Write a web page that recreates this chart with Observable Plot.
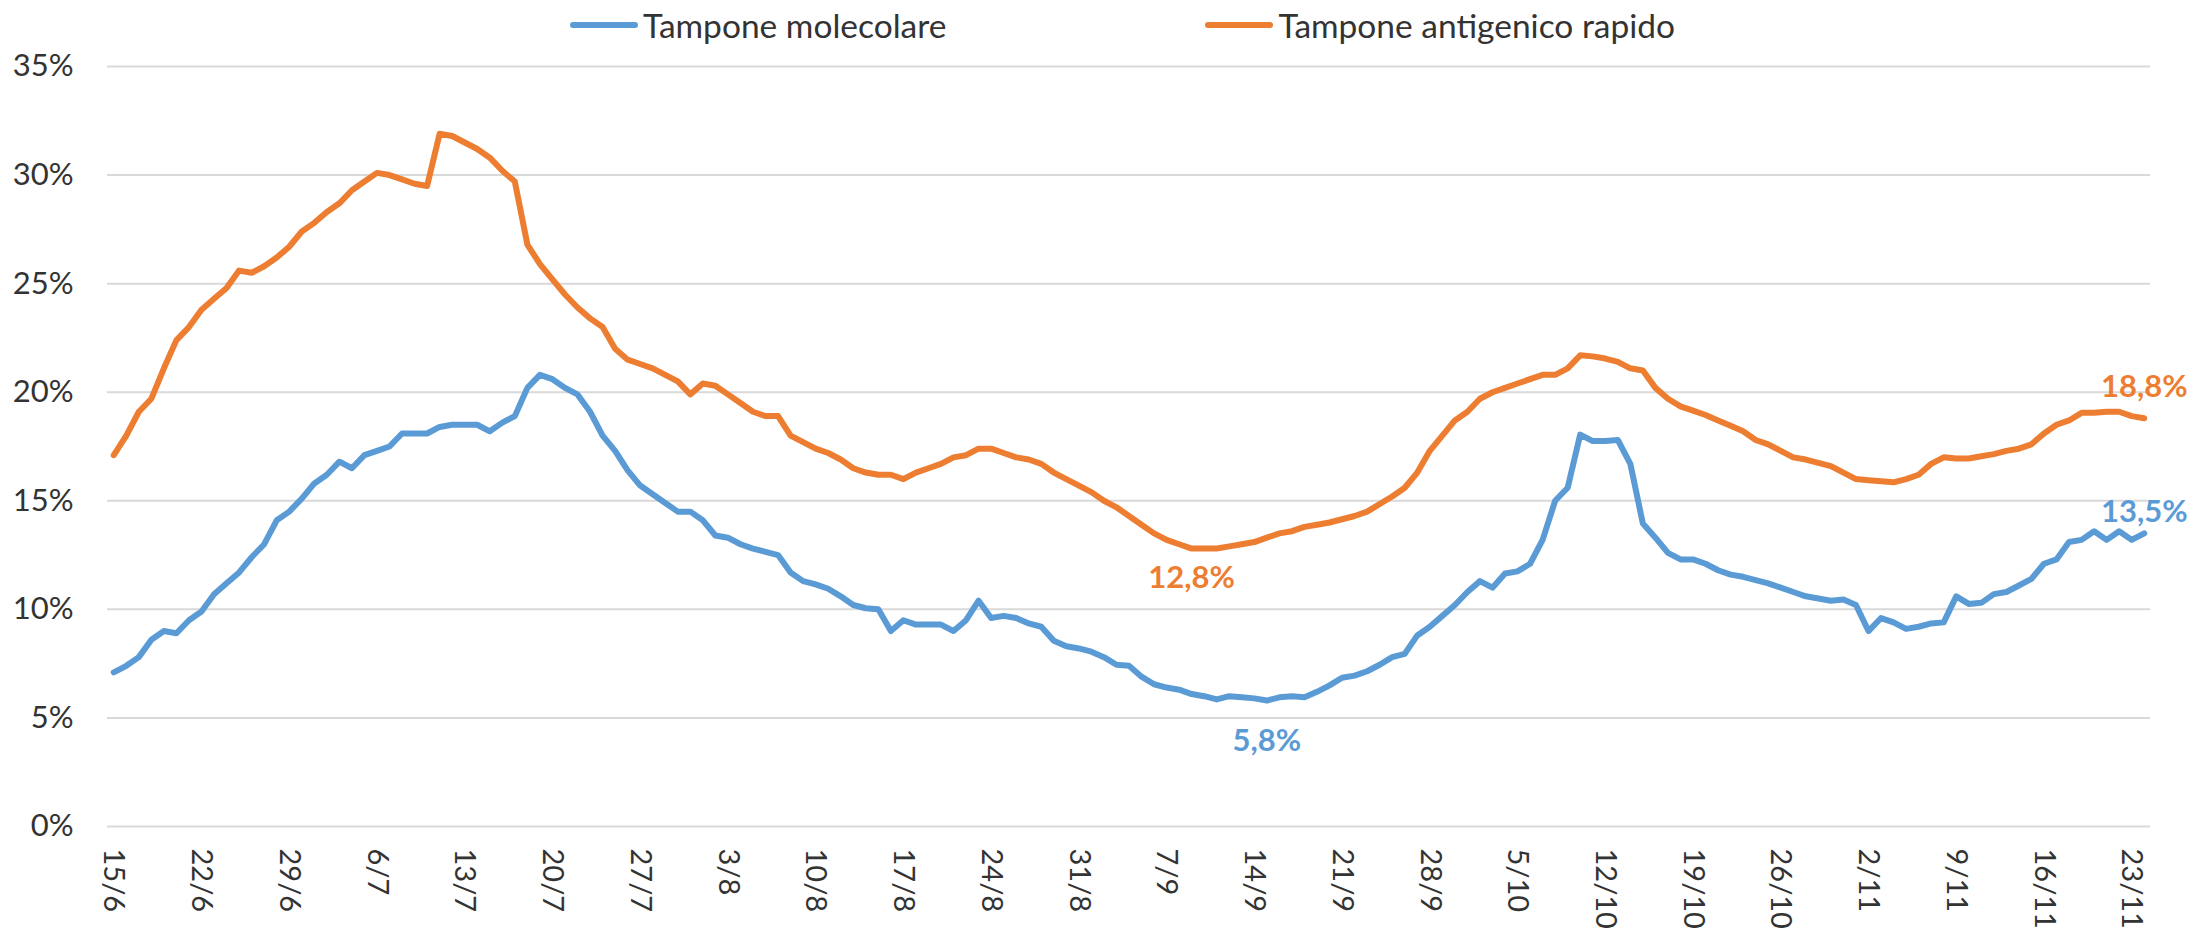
<!DOCTYPE html>
<html>
<head>
<meta charset="utf-8">
<script src="https://cdn.jsdelivr.net/npm/d3@7"></script>
<script src="https://cdn.jsdelivr.net/npm/@observablehq/plot@0.6"></script>
<style>
  html, body { margin: 0; padding: 0; background: #ffffff; }
  body { width: 2198px; height: 932px; overflow: hidden; font-family: Lato, "Liberation Sans", sans-serif; }
  #legend { height: 50px; display: flex; justify-content: center; align-items: center; gap: 258px; font-size: 33.5px; color: #333333; padding-left: 46px; }
  .item { display: flex; align-items: center; }
  .item svg { margin-right: 4px; }
</style>
</head>
<body>
<div id="legend"></div>
<div id="chart"></div>
<script>
// ---- data ----
const startDay = "2022-06-15";
const seriesNames = ["Tampone molecolare", "Tampone antigenico rapido"];
const seriesColors = ["#5B9BD5", "#ED7D31"];

const molecolare = [
  7.1, 7.4, 7.8, 8.6, 9.0, 8.9, 9.5, 9.9, 10.7, 11.2,
  11.7, 12.4, 13.0, 14.1, 14.5, 15.1, 15.8, 16.2, 16.8, 16.5,
  17.1, 17.3, 17.5, 18.1, 18.1, 18.1, 18.4, 18.5, 18.5, 18.5,
  18.2, 18.6, 18.9, 20.2, 20.8, 20.6, 20.2, 19.9, 19.1, 18.0,
  17.3, 16.4, 15.7, 15.3, 14.9, 14.5, 14.5, 14.1, 13.4, 13.3,
  13.0, 12.8, 12.65, 12.5, 11.7, 11.3, 11.15, 10.95, 10.6, 10.2,
  10.05, 10.0, 9.0, 9.5, 9.3, 9.3, 9.3, 9.0, 9.5, 10.4,
  9.6, 9.7, 9.6, 9.35, 9.2, 8.55, 8.3, 8.2, 8.05, 7.8,
  7.45, 7.4, 6.9, 6.55, 6.4, 6.3, 6.1, 6.0, 5.85, 6.0,
  5.95, 5.9, 5.8, 5.95, 6.0, 5.95, 6.2, 6.5, 6.85, 6.95,
  7.15, 7.45, 7.8, 7.95, 8.8, 9.2, 9.7, 10.2, 10.8, 11.3,
  11.0, 11.65, 11.75, 12.1, 13.2, 15.0, 15.6, 18.05, 17.75, 17.75,
  17.8, 16.7, 13.95, 13.3, 12.6, 12.3, 12.3, 12.1, 11.8, 11.6,
  11.5, 11.35, 11.2, 11.0, 10.8, 10.6, 10.5, 10.4, 10.45, 10.2,
  9.0, 9.6, 9.4, 9.1, 9.2, 9.35, 9.4, 10.6, 10.25, 10.3,
  10.7, 10.8, 11.1, 11.4, 12.1, 12.3, 13.1, 13.2, 13.6, 13.2,
  13.6, 13.2, 13.5
];

const antigenico = [
  17.1, 18.0, 19.1, 19.7, 21.1, 22.4, 23.0, 23.8, 24.3, 24.8,
  25.6, 25.5, 25.8, 26.2, 26.7, 27.4, 27.8, 28.3, 28.7, 29.3,
  29.7, 30.1, 30.0, 29.8, 29.6, 29.5, 31.9, 31.8, 31.5, 31.2,
  30.8, 30.2, 29.7, 26.8, 25.9, 25.2, 24.5, 23.9, 23.4, 23.0,
  22.0, 21.5, 21.3, 21.1, 20.8, 20.5, 19.9, 20.4, 20.3, 19.9,
  19.5, 19.1, 18.9, 18.9, 18.0, 17.7, 17.4, 17.2, 16.9, 16.5,
  16.3, 16.2, 16.2, 16.0, 16.3, 16.5, 16.7, 17.0, 17.1, 17.4,
  17.4, 17.2, 17.0, 16.9, 16.7, 16.3, 16.0, 15.7, 15.4, 15.0,
  14.7, 14.3, 13.9, 13.5, 13.2, 13.0, 12.8, 12.8, 12.8, 12.9,
  13.0, 13.1, 13.3, 13.5, 13.6, 13.8, 13.9, 14.0, 14.15, 14.3,
  14.5, 14.85, 15.2, 15.6, 16.3, 17.3, 18.0, 18.7, 19.1, 19.7,
  20.0, 20.2, 20.4, 20.6, 20.8, 20.8, 21.1, 21.7, 21.65, 21.55,
  21.4, 21.1, 21.0, 20.2, 19.7, 19.35, 19.15, 18.95, 18.7, 18.45,
  18.2, 17.8, 17.6, 17.3, 17.0, 16.9, 16.75, 16.6, 16.3, 16.0,
  15.95, 15.9, 15.85, 16.0, 16.2, 16.7, 17.0, 16.95, 16.95, 17.05,
  17.15, 17.3, 17.4, 17.6, 18.1, 18.5, 18.7, 19.05, 19.05, 19.1,
  19.1, 18.9, 18.8
];

const xTickLabels = ["15/6","22/6","29/6","6/7","13/7","20/7","27/7","3/8","10/8","17/8","24/8","31/8",
  "7/9","14/9","21/9","28/9","5/10","12/10","19/10","26/10","2/11","9/11","16/11","23/11"];
const yTicks = [0, 5, 10, 15, 20, 25, 30, 35];

// labelled points: [series index, day index]
const labelBelow = [[1, 86], [0, 92]];
const labelAbove = [[1, 162], [0, 162]];

// ---- build table ----
const t0 = new Date(startDay + "T00:00:00Z");
const dayDate = i => d3.utcDay.offset(t0, i);
const rows = [];
[molecolare, antigenico].forEach((vals, s) => {
  vals.forEach((v, i) => rows.push({series: seriesNames[s], s, day: i, date: dayDate(i), value: v}));
});
const nDays = molecolare.length;
const tickDates = xTickLabels.map(l => {
  const [d, m] = l.split("/").map(Number);
  return new Date(Date.UTC(t0.getUTCFullYear(), m - 1, d));
});
const fmtTick = d => `${d.getUTCDate()}/${d.getUTCMonth() + 1}`;
const fmtVal = v => v.toFixed(1).replace(".", ",") + "%";
const pick = list => rows.filter(r => list.some(([s, d]) => r.s === s && r.day === d));

// ---- legend ----
const legend = document.getElementById("legend");
seriesNames.forEach((name, i) => {
  const item = document.createElement("div");
  item.className = "item";
  item.innerHTML = `<svg width="70" height="10"><line x1="4" x2="66" y1="5" y2="5" stroke="${seriesColors[i]}" stroke-width="6" stroke-linecap="round"/></svg><span>${name}</span>`;
  legend.appendChild(item);
});

// ---- chart ----
const colorOf = s => seriesColors[s];
const chart = Plot.plot({
  width: 2198,
  height: 882,
  marginTop: 16,
  marginBottom: 106,
  marginLeft: 107,
  marginRight: 48,
  style: {fontFamily: 'Lato, "Liberation Sans", sans-serif', fontSize: "31px", color: "#333333", background: "#ffffff", overflow: "visible"},
  x: {type: "utc", domain: [d3.utcHour.offset(dayDate(0), -12), d3.utcHour.offset(dayDate(nDays - 1), 12)]},
  y: {domain: [0, 35]},
  color: {domain: seriesNames, range: seriesColors},
  marks: [
    Plot.gridY(yTicks, {stroke: "#d9d9d9", strokeOpacity: 1, strokeWidth: 2}),
    Plot.axisY({ticks: yTicks, tickFormat: d => d + "%", tickSize: 0, tickPadding: 34, fontSize: 31, fill: "#333333", label: null}),
    Plot.axisX({ticks: tickDates, tickFormat: fmtTick, tickSize: 0, tickPadding: 22, tickRotate: 90, fontSize: 29, fill: "#333333", label: null}),
    Plot.line(rows, {x: "date", y: "value", z: "series", stroke: "series", strokeWidth: 6, strokeLinejoin: "round", strokeLinecap: "round"}),
    Plot.text(pick([labelBelow[0]]), {x: "date", y: "value", text: d => fmtVal(d.value), fill: d => colorOf(d.s), dy: 30, fontSize: 31, fontWeight: "bold"}),
    Plot.text(pick([labelBelow[1]]), {x: "date", y: "value", text: d => fmtVal(d.value), fill: d => colorOf(d.s), dy: 41, fontSize: 31, fontWeight: "bold"}),
    Plot.text(pick([labelAbove[0]]), {x: "date", y: "value", text: d => fmtVal(d.value), fill: d => colorOf(d.s), dy: -31, fontSize: 31, fontWeight: "bold"}),
    Plot.text(pick([labelAbove[1]]), {x: "date", y: "value", text: d => fmtVal(d.value), fill: d => colorOf(d.s), dy: -21, fontSize: 31, fontWeight: "bold"})
  ]
});
document.getElementById("chart").appendChild(chart);
</script>
</body>
</html>
